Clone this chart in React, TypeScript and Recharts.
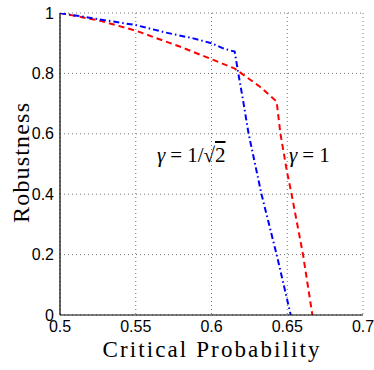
import { LineChart, Line, XAxis, YAxis, CartesianGrid } from "recharts";

const xTicks = [0.5, 0.55, 0.6, 0.65, 0.7];
const yTicks = [0, 0.2, 0.4, 0.6, 0.8, 1];

// gamma = 1 (red dashed)
const gammaOneP = [0.5, 0.526, 0.55, 0.579, 0.6, 0.615, 0.632, 0.643, 0.6455, 0.6498, 0.6527, 0.6604, 0.6666];
const gammaOneR = [1, 0.975, 0.9415, 0.889, 0.847, 0.817, 0.756, 0.707, 0.6, 0.475, 0.404, 0.2, 0];

// gamma = 1/sqrt(2) (blue dash-dot)
const gammaSqrtP = [0.5, 0.526, 0.55, 0.57, 0.588, 0.6, 0.6076, 0.6153, 0.6177, 0.6208, 0.6245, 0.633, 0.643, 0.6523];
const gammaSqrtR = [1, 0.979, 0.96, 0.935, 0.916, 0.9, 0.883, 0.872, 0.8, 0.712, 0.6, 0.4, 0.2, 0];

const redData = gammaOneP.map((p, i) => ({ p, r: gammaOneR[i] }));
const blueData = gammaSqrtP.map((p, i) => ({ p, r: gammaSqrtR[i] }));

const tickFont = { fontFamily: "'Liberation Sans', Arial, sans-serif", fontSize: 16, fill: "#000" };
const serif = "'Liberation Serif', 'Times New Roman', serif";
const empty = () => "";

function App() {
  return (
    <div style={{ position: "absolute", left: 0, top: 0, width: 374, height: 370, background: "#fff" }}>
      <LineChart width={374} height={370} margin={{ top: 13, right: 11, bottom: 0, left: 0 }}>
        <CartesianGrid stroke="#777" strokeDasharray="1 3" />
        <XAxis
          dataKey="p"
          type="number"
          domain={[0.5, 0.7]}
          ticks={xTicks}
          allowDataOverflow
          height={55}
          tickLine={false}
          tickSize={0}
          tickMargin={6}
          tick={tickFont}
          axisLine={{ stroke: "#000", strokeWidth: 1.2 }}
          label={() => (
            <text x={211} y={357} textAnchor="middle" fontFamily={serif} fontSize={23} textLength={217} lengthAdjust="spacing" fill="#000">
              Critical Probability
            </text>
          )}
        />
        <XAxis xAxisId="bt" type="number" domain={[0.5, 0.7]} ticks={xTicks} allowDataOverflow mirror height={0} tickSize={4} tickFormatter={empty} axisLine={false} tickLine={{ stroke: "#000" }} />
        <XAxis xAxisId="tp" orientation="top" type="number" domain={[0.5, 0.7]} ticks={xTicks} allowDataOverflow mirror height={0} tickSize={4} tickFormatter={empty} axisLine={{ stroke: "#000", strokeWidth: 1.2 }} tickLine={{ stroke: "#000" }} />
        <YAxis
          type="number"
          domain={[0, 1]}
          ticks={yTicks}
          allowDataOverflow
          width={60}
          tickLine={false}
          tickSize={0}
          tickMargin={6}
          tick={tickFont}
          axisLine={{ stroke: "#000", strokeWidth: 1.2 }}
          label={() => (
            <text x={21} y={163} transform="rotate(-90 21 163)" textAnchor="middle" dominantBaseline="central" fontFamily={serif} fontSize={24} textLength={120} lengthAdjust="spacing" fill="#000">
              Robustness
            </text>
          )}
        />
        <YAxis yAxisId="lt" type="number" domain={[0, 1]} ticks={yTicks} allowDataOverflow mirror width={0} tickSize={4} tickFormatter={empty} axisLine={false} tickLine={{ stroke: "#000" }} />
        <YAxis yAxisId="rt" orientation="right" type="number" domain={[0, 1]} ticks={yTicks} allowDataOverflow mirror width={0} tickSize={4} tickFormatter={empty} axisLine={{ stroke: "#000", strokeWidth: 1.2 }} tickLine={{ stroke: "#000" }} />
        <Line data={redData} dataKey="r" type="linear" stroke="#ff0000" strokeWidth={2} strokeDasharray="6 4" dot={false} isAnimationActive={false} />
        <Line data={blueData} dataKey="r" type="linear" stroke="#0000ff" strokeWidth={2} strokeDasharray="6 3 1.5 3" dot={false} isAnimationActive={false} />
      </LineChart>
      <div style={{ position: "absolute", left: 157, top: 145, fontFamily: serif, fontSize: 21, lineHeight: "20px", whiteSpace: "nowrap" }}>
        <span style={{ fontStyle: "italic" }}>γ</span>
        <span style={{ margin: "0 5px" }}>=</span>1/√<span style={{ textDecoration: "overline" }}>2</span>
      </div>
      <div style={{ position: "absolute", left: 289, top: 145, fontFamily: serif, fontSize: 21, lineHeight: "20px", whiteSpace: "nowrap" }}>
        <span style={{ fontStyle: "italic" }}>γ</span>
        <span style={{ margin: "0 5px" }}>=</span>1
      </div>
    </div>
  );
}

export default App;
